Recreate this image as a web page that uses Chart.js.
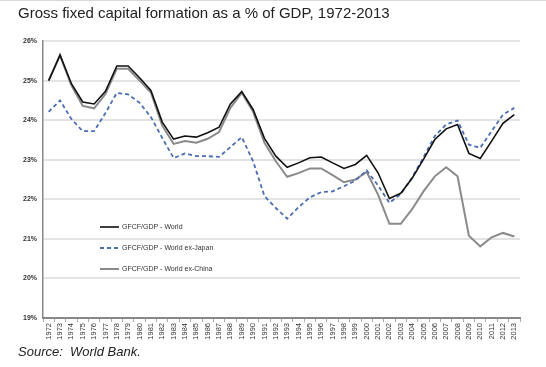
<!DOCTYPE html>
<html>
<head>
<meta charset="utf-8">
<script src="https://cdn.jsdelivr.net/npm/chart.js@4"></script>
<style>
    html, body {margin: 0; padding: 0; background: #fff;}
    #wrap {position: relative; width: 546px; height: 367px; overflow: hidden; border-top: 1px solid #d8d8d8; box-sizing: border-box;}
    #chart {position: absolute; left: 0; top: 0;}
    .title {position: absolute; left: 18px; top: 3px; font: 15px "Liberation Sans", Arial, sans-serif; color: #222; white-space: nowrap;}
    .source {position: absolute; left: 18px; top: 343px; font: italic 13px "Liberation Sans", Arial, sans-serif; color: #222; white-space: nowrap;}
</style>
</head>
<body>
<div id="wrap">
    <canvas id="chart" width="546" height="367"></canvas>
    <div class="title">Gross fixed capital formation as a % of GDP, 1972-2013</div>
    <div class="source">Source:&nbsp; World Bank.</div>
</div>
<script>
// values, % of GDP
const years = [];
for (let y = 1972; y <= 2013; y++) years.push(String(y));

const world = [
    25.0, 25.65, 24.92, 24.46, 24.41, 24.73, 25.37, 25.37, 25.07, 24.75,
    23.95, 23.52, 23.6, 23.57, 23.68, 23.82, 24.41, 24.72, 24.27, 23.54,
    23.09, 22.81, 22.92, 23.05, 23.07, 22.92, 22.78, 22.88, 23.11, 22.67,
    22.02, 22.15, 22.53, 23.01, 23.51, 23.78, 23.89, 23.16, 23.03, 23.47,
    23.92, 24.14
];
const worldExJapan = [
    24.21, 24.5, 24.03, 23.72, 23.72, 24.18, 24.69, 24.65, 24.44, 24.08,
    23.55, 23.04, 23.16, 23.09, 23.09, 23.07, 23.32, 23.57, 22.96, 22.08,
    21.78, 21.51, 21.8, 22.05, 22.18, 22.2, 22.33, 22.47, 22.73, 22.35,
    21.91, 22.13, 22.55, 23.06, 23.6, 23.89, 23.99, 23.38, 23.3, 23.72,
    24.14, 24.31
];
const worldExChina = [
    25.0, 25.63, 24.88, 24.36, 24.3, 24.66, 25.3, 25.3, 25.0, 24.7,
    23.86, 23.4, 23.47, 23.43, 23.53, 23.7, 24.31, 24.69, 24.21, 23.43,
    22.96, 22.57, 22.66, 22.78, 22.78, 22.61, 22.43, 22.5, 22.69, 22.12,
    21.38, 21.38, 21.75, 22.2, 22.58, 22.81, 22.58, 21.08, 20.81, 21.04,
    21.15, 21.06
];
const yTicks = [19, 20, 21, 22, 23, 24, 25, 26];

// legend sits inside the plot, lower left
const insideLegend = {
    id: "insideLegend",
    afterDraw(chart) {
        const ctx = chart.ctx;
        const x0 = 100, x1 = 119, rows = [226, 247, 268];
        ctx.save();
        ctx.font = "7px 'Liberation Sans', Arial, sans-serif";
        ctx.textBaseline = "middle";
        chart.data.datasets.forEach((ds, i) => {
            ctx.strokeStyle = ds.borderColor;
            ctx.lineWidth = ds.borderWidth;
            ctx.setLineDash(ds.borderDash || []);
            ctx.beginPath();
            ctx.moveTo(x0, rows[i]);
            ctx.lineTo(x1, rows[i]);
            ctx.stroke();
            ctx.setLineDash([]);
            ctx.fillStyle = "#333";
            ctx.fillText(ds.label, x1 + 3, rows[i]);
        });
        ctx.restore();
    }
};

new Chart(document.getElementById("chart"), {
    type: "line",
    data: {
        labels: years,
        datasets: [{
            label: "GFCF/GDP - World",
            data: world,
            borderColor: "#111",
            borderWidth: 1.6,
            order: 0
        }, {
            label: "GFCF/GDP - World ex-Japan",
            data: worldExJapan,
            borderColor: "#4a6db5",
            borderWidth: 1.8,
            borderDash: [4, 3],
            order: 1
        }, {
            label: "GFCF/GDP - World ex-China",
            data: worldExChina,
            borderColor: "#8a8a8a",
            borderWidth: 2,
            order: 2
        }]
    },
    options: {
        responsive: false,
        animation: false,
        events: [],
        elements: {point: {radius: 0}, line: {tension: 0}},
        layout: {padding: {top: 40, right: 26, left: 0, bottom: 0}},
        plugins: {legend: {display: false}, tooltip: {enabled: false}},
        scales: {
            x: {
                offset: true,
                border: {color: "#888", width: 2},
                grid: {display: true, drawOnChartArea: false, offset: true, tickLength: 4, color: "#aaa"},
                ticks: {
                    autoSkip: false, minRotation: 90, maxRotation: 90, padding: 1,
                    color: "#333", font: {size: 7.5, family: "'Liberation Sans', Arial, sans-serif"}
                },
                afterFit(scale) { scale.height = 50; }
            },
            y: {
                min: yTicks[0],
                max: yTicks[yTicks.length - 1],
                afterBuildTicks(scale) { scale.ticks = yTicks.map(v => ({value: v})); },
                border: {color: "#888", width: 1.5},
                grid: {color: "#e3e3e3", lineWidth: 2, drawTicks: false},
                ticks: {
                    padding: 6, color: "#333",
                    font: {size: 7, weight: "bold", family: "'Liberation Sans', Arial, sans-serif"},
                    callback: v => v + "%"
                },
                afterFit(scale) { scale.width = 43; }
            }
        }
    },
    plugins: [insideLegend]
});
</script>
</body>
</html>
